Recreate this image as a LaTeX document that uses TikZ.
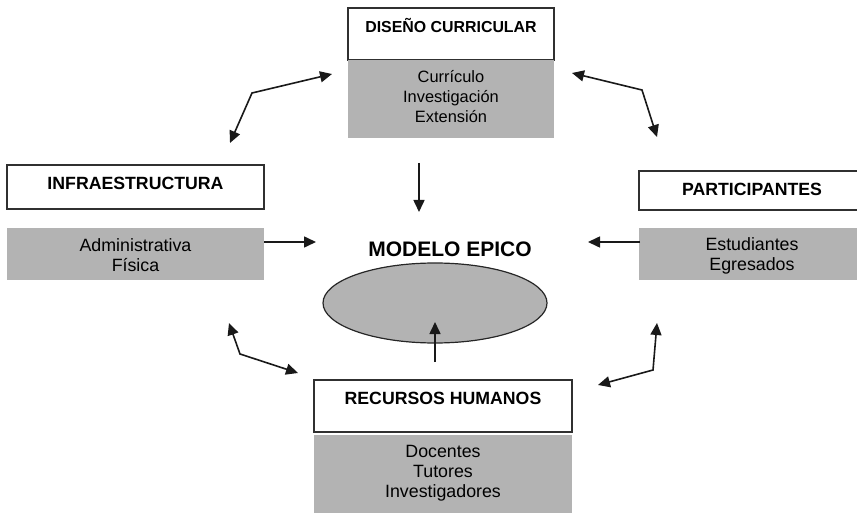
\documentclass[tikz,border=0pt]{standalone}
\usepackage{fontspec}
\setmainfont{Liberation Sans}
\usetikzlibrary{arrows.meta,shapes.geometric}
\definecolor{boxgray}{HTML}{B3B3B3}
\definecolor{edge}{HTML}{303030}
\tikzset{
  whitebox/.style={draw=edge,line width=1.2pt,fill=white,inner sep=0pt},
  graybox/.style={fill=boxgray,draw=none,inner sep=0pt},
  head/.style={font=\bfseries\fontsize{17.7}{20}\selectfont,inner sep=0pt},
  body/.style={font=\fontsize{17.8}{20}\selectfont,align=center,inner sep=0pt},
  tip/.tip={Triangle[length=12pt,width=11pt]},
  conn/.style={line width=1.6pt,draw=black!90,-tip},
  dconn/.style={line width=1.6pt,draw=black!90,tip-tip},
}
\begin{document}
\begin{tikzpicture}[x=1pt,y=-1pt]
\useasboundingbox (0,0) rectangle (857,513);
% Diseño curricular
\node[whitebox,minimum width=206pt,minimum height=52pt] (dc) at (451,34) {};
\node[graybox,minimum width=206pt,minimum height=78pt] (dcg) at (451,99) {};
\node[head,font=\bfseries\fontsize{15.9}{19}\selectfont] (dct) at (451,26) {DISEÑO CURRICULAR};
\node[body,font=\fontsize{16.4}{20}\selectfont] (dcb) at (451,97) {Currículo\\Investigación\\Extensión};
% Infraestructura
\node[whitebox,minimum width=257pt,minimum height=44pt] (inf) at (135.5,187) {};
\node[graybox,minimum width=257pt,minimum height=52pt] (infg) at (135.5,254) {};
\node[head] (inft) at (135.5,183) {INFRAESTRUCTURA};
\node[body] (infb) at (135.5,255.5) {Administrativa\\Física};
% Participantes
\node[whitebox,minimum width=226pt,minimum height=39pt] (par) at (752,190.5) {};
\node[graybox,minimum width=226pt,minimum height=52pt] (parg) at (752,254) {};
\node[head] (part) at (752,189) {PARTICIPANTES};
\node[body] (parb) at (752,255.5) {Estudiantes\\Egresados};
% Recursos humanos
\node[whitebox,minimum width=258pt,minimum height=52pt] (rh) at (443,406) {};
\node[graybox,minimum width=258pt,minimum height=90pt] (rhg) at (443,480) {};
\node[head] (rht) at (443,398) {RECURSOS HUMANOS};
\node[body] (rhb) at (443,473) {Docentes\\Tutores\\Investigadores};
% Modelo
\node[ellipse,draw=black!85,line width=1.2pt,fill=boxgray,minimum width=224pt,minimum height=80pt,inner sep=0pt] (me) at (435,303) {};
\node[font=\bfseries\fontsize{21}{24}\selectfont,inner sep=0pt] (met) at (450,249) {MODELO EPICO};
% coordinates
\coordinate (d1) at (419,163); \coordinate (d2) at (419,212);
\coordinate (l1) at (264,242); \coordinate (l2) at (316,242);
\coordinate (r1) at (640,242); \coordinate (r2) at (588,242);
\coordinate (u1) at (435,362); \coordinate (u2) at (435,322);
\coordinate (tl1) at (230,143); \coordinate (tlb) at (252,93); \coordinate (tl2) at (332,74);
\coordinate (tr1) at (572,73); \coordinate (trb) at (642,90); \coordinate (tr2) at (657,137);
\coordinate (bl1) at (229,323); \coordinate (blb) at (240,354); \coordinate (bl2) at (298,373);
\coordinate (br1) at (657,323); \coordinate (brb) at (653,370); \coordinate (br2) at (598,385);
\draw[conn] (d1) -- (d2);
\draw[conn] (l1) -- (l2);
\draw[conn] (r1) -- (r2);
\draw[conn] (u1) -- (u2);
\draw[dconn] (tl1) -- (tlb) -- (tl2);
\draw[dconn] (tr1) -- (trb) -- (tr2);
\draw[dconn] (bl1) -- (blb) -- (bl2);
\draw[dconn] (br1) -- (brb) -- (br2);
\end{tikzpicture}
\end{document}
